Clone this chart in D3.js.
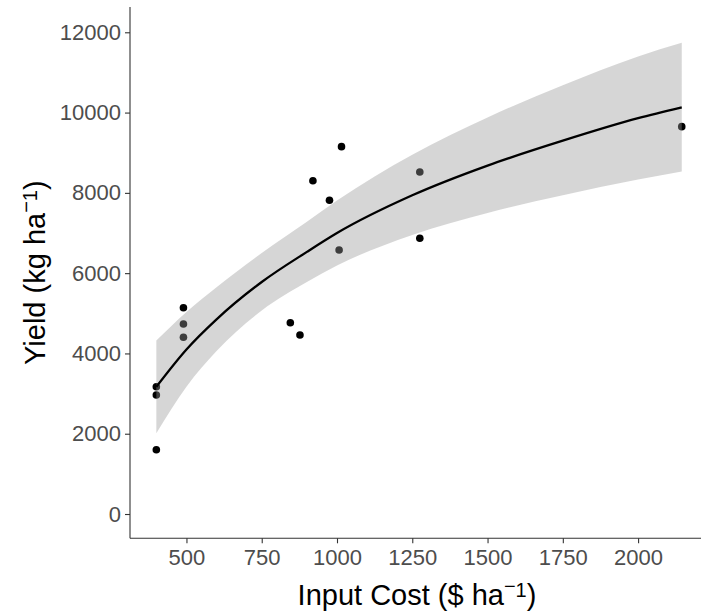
<!DOCTYPE html>
<html>
<head>
<meta charset="utf-8">
<script src="https://cdn.jsdelivr.net/npm/d3@7"></script>
<style>
  body { margin: 0; background: #fff; }
  svg { display: block; font-family: "Liberation Sans", Arial, sans-serif; }
</style>
</head>
<body>
<svg id="chart" width="701" height="616"></svg>
<script>
// observed points (input cost, yield)
const costs = [400, 400, 400, 490, 490, 490, 845, 877, 920, 975, 1007, 1015, 1275, 1275, 2145];
const yields = [1600, 2965, 3170, 5140, 4733, 4402, 4766, 4459, 8303, 7815, 6577, 9151, 8520, 6868, 9649];

// fitted curve + confidence band
const fitX = [400, 500, 600, 750, 900, 1000, 1250, 1500, 1750, 2000, 2145];
const fitY = [3170, 4100, 4850, 5780, 6530, 7000, 7940, 8680, 9300, 9860, 10130];
const upper = [4320, 5030, 5650, 6500, 7280, 7810, 8950, 9880, 10680, 11400, 11740];
const lower = [2010, 3170, 4060, 5070, 5780, 6190, 6950, 7500, 7940, 8330, 8530];

const xTicks = [500, 750, 1000, 1250, 1500, 1750, 2000];
const yTicks = [0, 2000, 4000, 6000, 8000, 10000, 12000];

const svg = d3.select('#chart');
const padL = 130, padR = 709.6, padT = 7, padB = 538.3;

const x = d3.scaleLinear().domain([312.5, 2237.5]).range([padL, padR]);
const y = d3.scaleLinear().domain([-605, 12630]).range([padB, padT]);

const pts = costs.map((c, i) => ({ x: c, y: yields[i] }));
const band = fitX.map((v, i) => ({ x: v, lo: lower[i], hi: upper[i], f: fitY[i] }));

// points first, ribbon drawn over them (like geom_smooth after geom_point)
svg.append('g').selectAll('circle')
    .data(pts)
    .join('circle')
    .attr('cx', d => x(d.x))
    .attr('cy', d => y(d.y))
    .attr('r', 3.8)
    .attr('fill', '#000');

const area = d3.area()
    .x(d => x(d.x))
    .y0(d => y(d.lo))
    .y1(d => y(d.hi))
    .curve(d3.curveMonotoneX);

svg.append('path')
    .datum(band)
    .attr('d', area)
    .attr('fill', '#999999')
    .attr('fill-opacity', 0.4);

const line = d3.line()
    .x(d => x(d.x))
    .y(d => y(d.f))
    .curve(d3.curveMonotoneX);

svg.append('path')
    .datum(band)
    .attr('d', line)
    .attr('fill', 'none')
    .attr('stroke', '#000')
    .attr('stroke-width', 2.3);

// axes
const fmt = d3.format('d');
const xAxis = svg.append('g')
    .attr('transform', `translate(0,${padB})`)
    .call(d3.axisBottom(x).tickValues(xTicks).tickFormat(fmt).tickSize(5).tickPadding(6).tickSizeOuter(0));
const yAxis = svg.append('g')
    .attr('transform', `translate(${padL},0)`)
    .call(d3.axisLeft(y).tickValues(yTicks).tickFormat(fmt).tickSize(5).tickPadding(4).tickSizeOuter(0));

[xAxis, yAxis].forEach(a => {
    a.select('.domain').attr('stroke', '#333').attr('stroke-width', 1.1);
    a.selectAll('.tick line').attr('stroke', '#333').attr('stroke-width', 1.1);
    a.selectAll('.tick text')
        .attr('fill', '#4d4d4d')
        .style('font-size', '22px')
        .style('font-family', '"Liberation Sans", Arial, sans-serif');
});
xAxis.select('.domain').attr('d', `M${padL},0H701`);
yAxis.select('.domain').attr('d', `M0,${padT}V${padB}`);

// axis titles with superscript -1 (minus sits high, like plotmath)
function unitTitle(sel, label) {
    sel.append('tspan').text(label + ' ha');
    sel.append('tspan').attr('dy', -12).style('font-size', '20px').text('−');
    sel.append('tspan').attr('dy', 4).style('font-size', '20px').text('1');
    sel.append('tspan').attr('dy', 8).text(')');
}

const xt = svg.append('text')
    .attr('x', 417)
    .attr('y', 605)
    .attr('text-anchor', 'middle')
    .style('font-size', '29px')
    .attr('fill', '#000');
unitTitle(xt, 'Input Cost ($');

const yt = svg.append('text')
    .attr('transform', `translate(45,${(padT + padB) / 2}) rotate(-90)`)
    .attr('text-anchor', 'middle')
    .style('font-size', '29px')
    .attr('fill', '#000');
unitTitle(yt, 'Yield (kg');
</script>
</body>
</html>
